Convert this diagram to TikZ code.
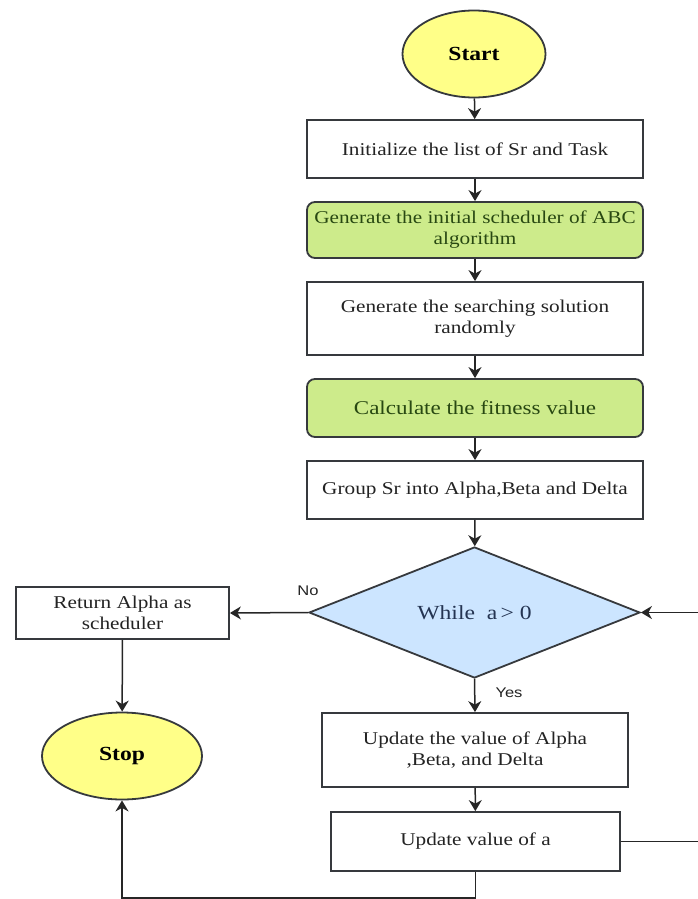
\documentclass[tikz,border=0pt]{standalone}
\usepackage{fontspec}
\setmainfont{Liberation Serif}[FakeStretch=1.18]
\setsansfont{Liberation Sans}[FakeStretch=1.18]
\usetikzlibrary{shapes.geometric,arrows.meta}

\definecolor{boxline}{RGB}{54,57,61}
\definecolor{greenfill}{RGB}{205,235,139}
\definecolor{greentext}{RGB}{40,72,18}
\definecolor{bluefill}{RGB}{204,229,255}
\definecolor{bluetext}{RGB}{36,52,82}
\definecolor{yellowfill}{RGB}{255,255,136}
\definecolor{bodytext}{RGB}{35,35,35}

\tikzset{every picture/.style={line width=1.5pt}}
\tikzset{
  procbox/.style={draw=boxline,fill=white,line width=1.8pt,align=center,inner sep=0pt,
    text=bodytext,font=\fontsize{18}{21}\selectfont},
  greenbox/.style={procbox,fill=greenfill,rounded corners=8pt,text=greentext},
  termnode/.style={ellipse,draw=boxline,fill=yellowfill,line width=1.8pt,inner sep=0pt,
    font=\fontsize{20}{24}\selectfont\bfseries},
  condnode/.style={diamond,draw=boxline,fill=bluefill,line width=1.8pt,inner sep=0pt,aspect=2.5,
    text=bluetext,font=\fontsize{20}{24}\selectfont},
  arw/.style={draw=black!85,-{Stealth[length=11pt,width=13pt,inset=3.5pt]}},
  lbl/.style={font=\sffamily\fontsize{14}{16}\selectfont,text=bodytext}
}

\begin{document}
\begin{tikzpicture}[x=1pt,y=1pt,yscale=-1,xscale=1]
	%set diagram to 698 x 899
	\useasboundingbox (0,0) rectangle (698,899);
	\clip (0,0) rectangle (698,899);

	%Shape: Ellipse [start]
	\node[termnode,minimum width=143,minimum height=87] (start) at (474,54) {Start};
	%Shape: Rectangle [init]
	\node[procbox,minimum width=336,minimum height=58] (init) at (475,149) {Initialize the list of Sr and Task};
	%Shape: Rounded Rectangle [gen1]
	\node[greenbox,minimum width=336,minimum height=56] (gen1) at (475,230) {Generate the initial scheduler of ABC\\algorithm};
	%Shape: Rectangle [gen2]
	\node[procbox,minimum width=336,minimum height=73] (gen2) at (475,318.5) {Generate the searching solution\\randomly};
	%Shape: Rounded Rectangle [calc]
	\node[greenbox,minimum width=336,minimum height=58,font=\fontsize{19.5}{23}\selectfont] (calc) at (475,408) {Calculate the fitness value};
	%Shape: Rectangle [group]
	\node[procbox,minimum width=336,minimum height=58] (group) at (475,490) {Group Sr into Alpha,Beta and Delta};
	%Shape: Diamond [cond]
	\node[condnode,minimum width=331,minimum height=131] (cond) at (474.5,612.5) {While~~a\,>~0};
	%Shape: Rectangle [ret]
	\node[procbox,minimum width=213,minimum height=52] (ret) at (122.5,613) {Return Alpha as\\scheduler};
	%Shape: Ellipse [stop]
	\node[termnode,minimum width=160,minimum height=87] (stop) at (122,756) {Stop};
	%Shape: Rectangle [upd]
	\node[procbox,minimum width=306,minimum height=74] (upd) at (475,750) {Update the value of Alpha\\,Beta, and Delta};
	%Shape: Rectangle [upa]
	\node[procbox,minimum width=289,minimum height=59] (upa) at (475.5,841.5) {Update value of a};

	%Loop corners
	\coordinate (bot) at (0,898);
	\coordinate (rgt) at (715,0);

	%Straight Lines
	\draw[arw] (start) -- (init);
	\draw[arw] (init) -- (gen1);
	\draw[arw] (gen1) -- (gen2);
	\draw[arw] (gen2) -- (calc);
	\draw[arw] (calc) -- (group);
	\draw[arw] (group) -- (cond);
	\draw[arw] (cond.west) -- (ret.east);
	\draw[arw] (ret) -- (stop);
	\draw[arw] (cond.south) -- (upd.north);
	\draw[arw] (upd) -- (upa);
	\draw[arw] (upa.south) |- (bot -| stop.south) -- (stop.south);
	\draw[arw] (upa.east) -| (rgt |- cond.east) -- (cond.east);

	% Text Node
	\node[lbl] (lblno) at (308,591) {No};
	% Text Node
	\node[lbl] (lblyes) at (509,693) {Yes};

\end{tikzpicture}
\end{document}
